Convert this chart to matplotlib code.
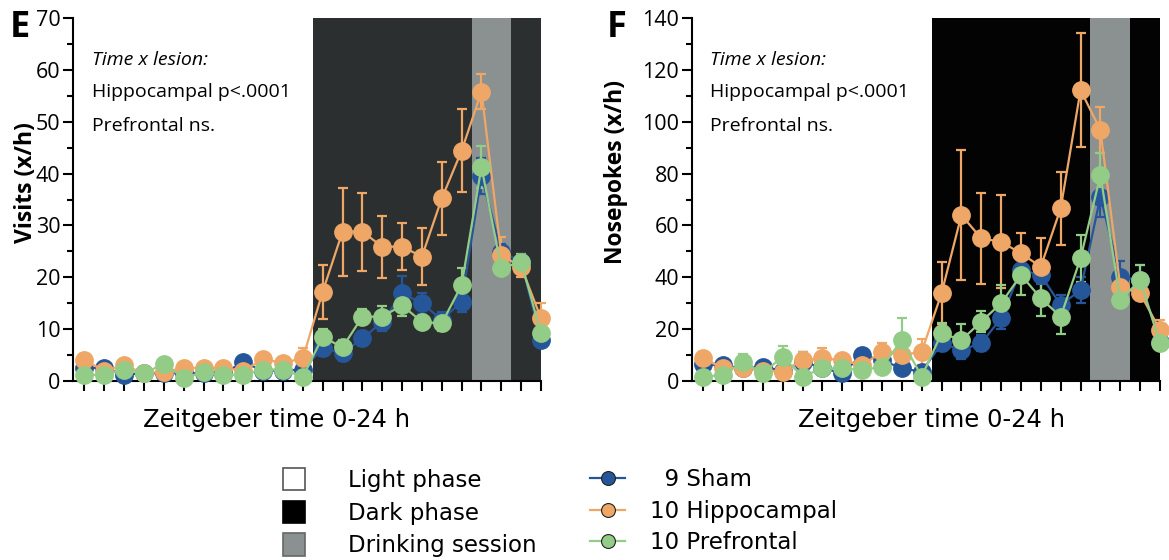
import numpy as np
import matplotlib.pyplot as plt
from matplotlib.patches import Patch
from matplotlib.lines import Line2D

plt.rcParams['font.family'] = ['Open Sans', 'DejaVu Sans']

# Zeitgeber hours (1..24)
hours = np.arange(1, 25)

# Visits (x/h), panel E
sham_v = [2.5, 2.5, 1.2, 1.5, 1.5, 1.5, 1.5, 1.5, 3.6, 2.0, 2.0, 2.2,
          6.3, 5.4, 8.2, 11.4, 16.9, 15.0, 11.8, 15.3, 39.5, 24.9, 23.0, 7.9]
sham_v_err = [0.8, 0.8, 0.6, 0.5, 0.5, 0.5, 0.5, 0.5, 0.8, 0.6, 0.6, 0.8,
              1.5, 1.5, 1.5, 1.8, 3.3, 2.0, 1.5, 2.0, 3.5, 1.5, 1.5, 1.0]
hip_v = [4.0, 2.0, 3.0, 1.5, 1.8, 2.5, 2.5, 2.5, 2.0, 4.2, 3.5, 4.4,
         17.2, 28.8, 28.8, 25.9, 25.9, 24.0, 35.2, 44.4, 55.8, 24.3, 22.0, 12.1]
hip_v_err = [1.0, 0.8, 0.8, 0.5, 0.6, 0.6, 0.6, 0.6, 0.6, 0.8, 0.8, 2.0,
             5.2, 8.5, 7.5, 6.0, 4.5, 5.5, 7.0, 8.0, 3.4, 3.5, 2.0, 3.0]
pre_v = [1.2, 1.2, 2.2, 1.5, 3.3, 0.6, 1.7, 1.2, 1.2, 2.2, 2.2, 0.8,
         8.5, 6.5, 12.4, 12.4, 14.6, 11.4, 11.1, 18.5, 41.3, 21.7, 23.0, 9.2]
pre_v_err = [0.5, 0.5, 0.5, 0.5, 0.8, 0.3, 0.5, 0.5, 0.5, 0.6, 0.6, 0.4,
             1.5, 1.5, 1.5, 2.0, 2.0, 1.0, 1.5, 3.2, 4.0, 1.0, 1.5, 1.5]

# Nosepokes (x/h), panel F
sham_n = [6.5, 6.0, 4.9, 5.5, 4.0, 7.5, 5.0, 3.0, 10.0, 8.0, 4.9, 3.6,
          14.5, 12.0, 14.6, 24.2, 42.8, 40.9, 29.3, 35.1, 71.1, 40.2, 38.9, 15.0]
sham_n_err = [2.0, 1.5, 1.5, 1.5, 1.5, 3.5, 1.5, 1.5, 2.5, 3.0, 1.5, 1.5,
              3.0, 3.5, 3.0, 4.0, 4.0, 3.5, 4.0, 5.0, 8.0, 6.0, 6.0, 2.5]
hip_n = [8.7, 5.0, 5.0, 4.0, 3.6, 8.1, 8.7, 8.1, 6.0, 11.3, 10.0, 11.3,
         33.8, 64.0, 55.0, 53.7, 49.2, 44.1, 66.6, 112.2, 96.8, 36.4, 33.8, 19.7]
hip_n_err = [2.5, 1.5, 1.5, 1.5, 1.5, 3.0, 4.0, 2.0, 2.0, 3.5, 2.0, 5.0,
             12.0, 25.0, 17.4, 18.0, 8.0, 11.0, 14.0, 22.0, 9.0, 3.0, 2.5, 4.0]
pre_n = [1.7, 2.3, 7.4, 3.0, 9.4, 1.7, 4.9, 4.9, 4.2, 5.5, 15.8, 1.7,
         18.4, 15.8, 22.9, 30.0, 40.9, 31.9, 24.8, 47.3, 79.4, 31.2, 38.9, 14.5]
pre_n_err = [0.8, 1.0, 3.0, 1.0, 4.0, 0.8, 1.5, 1.5, 1.0, 2.0, 8.5, 0.8,
             4.0, 6.0, 4.0, 7.0, 7.7, 7.0, 6.5, 9.0, 8.4, 2.0, 6.0, 2.0]

dark_start = 12.5
drink = (20.5, 22.5)

c_sham = '#26569a'
c_hip = '#eea767'
c_pre = '#93cc86'

fig = plt.figure(figsize=(11.69, 5.6), dpi=100)
axL = fig.add_axes([0.0624, 0.3196, 0.4004, 0.6483])
axR = fig.add_axes([0.5917, 0.3196, 0.4006, 0.6483])


def panel(ax, series, ymax, ystep, ylabel, darkcol, lx):
    ax.set_xlim(0.42, 24)
    ax.set_ylim(0, ymax)
    ax.axvspan(dark_start, 24, color=darkcol, lw=0, zorder=0)
    ax.axvspan(drink[0], drink[1], color='#8b9090', lw=0, zorder=0.5)
    for y, e, c in series:
        ax.errorbar(hours, y, yerr=e, color=c, lw=1.6, elinewidth=1.6,
                    capsize=3.5, capthick=1.6, marker='o', markersize=12.5,
                    markerfacecolor=c, markeredgecolor=c, clip_on=False, zorder=3)
    for s in ['top', 'right']:
        ax.spines[s].set_visible(False)
    for s in ['left', 'bottom']:
        ax.spines[s].set_linewidth(1.5)
    ax.set_xticks(hours)
    ax.set_xticklabels([])
    ax.set_yticks(np.arange(0, ymax + 1, ystep))
    ax.set_yticks(np.arange(ystep / 2, ymax, ystep), minor=True)
    ax.tick_params(axis='both', which='major', length=7, width=1.5, labelsize=15.5, pad=2)
    ax.tick_params(axis='y', which='minor', length=4.5, width=1.5)
    ax.set_ylabel(ylabel, fontsize=16.5, fontweight='bold')
    ax.set_xlabel('Zeitgeber time 0-24 h', fontsize=17.5, family='DejaVu Sans')
    ax.xaxis.set_label_coords(lx, -0.075)
    ax.text(0.04, 0.884, 'Time x lesion:', transform=ax.transAxes, fontsize=14,
            style='italic', va='center')
    ax.text(0.04, 0.796, 'Hippocampal p<.0001', transform=ax.transAxes, fontsize=14,
            va='center')
    ax.text(0.04, 0.702, 'Prefrontal ns.', transform=ax.transAxes, fontsize=14,
            va='center')


panel(axL, [(sham_v, sham_v_err, c_sham), (hip_v, hip_v_err, c_hip), (pre_v, pre_v_err, c_pre)],
      70, 10, 'Visits (x/h)', '#2b2f2f', 0.434)
axL.yaxis.set_label_coords(-0.075, 0.548)
panel(axR, [(sham_n, sham_n_err, c_sham), (hip_n, hip_n_err, c_hip), (pre_n, pre_n_err, c_pre)],
      140, 20, 'Nosepokes (x/h)', '#030303', 0.513)
axR.yaxis.set_label_coords(-0.136, 0.576)

fig.text(0.008, 0.95, 'E', fontsize=26, fontweight='bold', va='center')
fig.text(0.519, 0.95, 'F', fontsize=26, fontweight='bold', va='center')

# legends
phase_handles = [Patch(facecolor='white', edgecolor='#555555', lw=1.2),
                 Patch(facecolor='black', edgecolor='black', lw=1.2),
                 Patch(facecolor='#8b9090', edgecolor='#666666', lw=1.2)]
fig.legend(phase_handles, ['Light phase', 'Dark phase', 'Drinking session'],
           loc='upper left', bbox_to_anchor=(283 / 1169, 1 - 468 / 560),
           frameon=False, prop={'family': 'DejaVu Sans', 'size': 16.5},
           handlelength=0.96, handleheight=1.13, handletextpad=1.88,
           labelspacing=0.38, borderpad=0, borderaxespad=0)

group_handles = [Line2D([], [], color=c, lw=1.6, marker='o', markersize=10,
                        markerfacecolor=c, markeredgecolor='#222222', markeredgewidth=0.8)
                 for c in (c_sham, c_hip, c_pre)]
fig.legend(group_handles, ['\u20079 Sham', '10 Hippocampal', '10 Prefrontal'],
           loc='upper left', bbox_to_anchor=(590 / 1169, 1 - 468 / 560),
           frameon=False, prop={'family': 'DejaVu Sans', 'size': 16.5},
           handlelength=1.53, handletextpad=1.09,
           labelspacing=0.38, borderpad=0, borderaxespad=0)

fig.savefig('out.png', dpi=100)
